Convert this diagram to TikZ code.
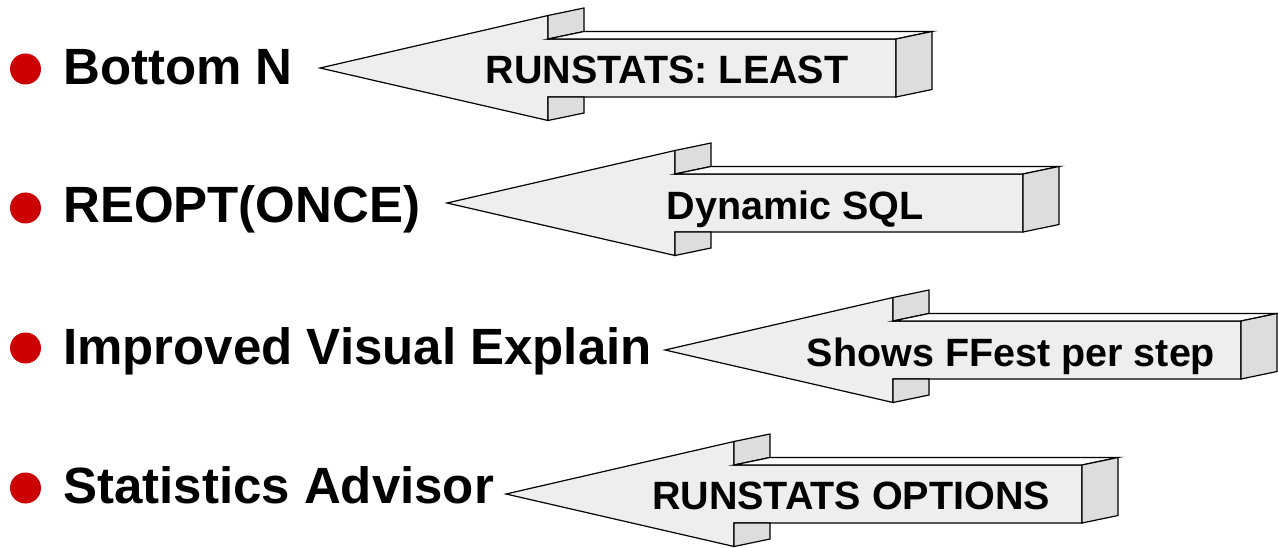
\documentclass[tikz,border=0pt]{standalone}
\usepackage{fontspec}
\setmainfont{Liberation Sans}
\definecolor{bulletred}{HTML}{CC0000}
\definecolor{arrowfront}{HTML}{EEEEEE}
\definecolor{arrowside}{HTML}{DDDDDD}
\definecolor{arrowtop}{HTML}{FCFCFC}

% Extruded block arrow pointing left: #1 = tip x, #2 = centre y
\newcommand{\blockarrow}[2]{%
  \begin{scope}[shift={(#1,#2)}, outline]
    \filldraw[fill=arrowfront] (0,0) -- (228,-52.5) -- (228,-29) -- (576,-29)
      -- (576,29) -- (228,29) -- (228,52.5) -- cycle;
    \filldraw[fill=arrowside] (228,-52.5) -- (264,-60) -- (264,-36.5) -- (228,-29) -- cycle;
    \filldraw[fill=arrowtop] (228,-29) -- (264,-36.5) -- (612,-36.5) -- (576,-29) -- cycle;
    \filldraw[fill=arrowside] (576,-29) -- (612,-36.5) -- (612,21.5) -- (576,29) -- cycle;
    \filldraw[fill=arrowside] (228,29) -- (228,52.5) -- (264,45) -- (264,29) -- cycle;
  \end{scope}}

\begin{document}
\begin{tikzpicture}[x=1pt, y=-1pt,
  outline/.style={draw=black, line width=1.2pt},
  bullet/.style={circle, fill=bulletred, minimum size=31pt, inner sep=0pt},
  itemtext/.style={anchor=base west, inner sep=0pt, font=\fontsize{51}{51}\selectfont\bfseries},
  arrowtext/.style={anchor=base, inner sep=0pt, font=\fontsize{39.5}{39.5}\selectfont\bfseries}]
  \useasboundingbox (0,0) rectangle (1278,548);

  % bullet points
  \node[bullet] (b1) at (25.5,69) {};
  \node[bullet] (b2) at (25.5,208) {};
  \node[bullet] (b3) at (25.5,348) {};
  \node[bullet] (b4) at (25.5,488) {};

  \node[itemtext] (t1) at (63,85) {Bottom N};
  \node[itemtext] (t2) at (63,223) {REOPT(ONCE)};
  \node[itemtext] (t3) at (63,364) {Improved Visual Explain};
  \node[itemtext] (t4) at (63,503) {Statistics Advisor};

  % 3D arrows
  \blockarrow{320}{68}
  \blockarrow{447}{203}
  \blockarrow{665}{350}
  \blockarrow{506}{494}

  \node[arrowtext] (a1) at (667,84) {RUNSTATS: LEAST};
  \node[arrowtext] (a2) at (795,220) {Dynamic SQL};
  \node[arrowtext] (a3) at (1011,366) {Shows FFest per step};
  \node[arrowtext] (a4) at (851,509) {RUNSTATS OPTIONS};
\end{tikzpicture}
\end{document}
